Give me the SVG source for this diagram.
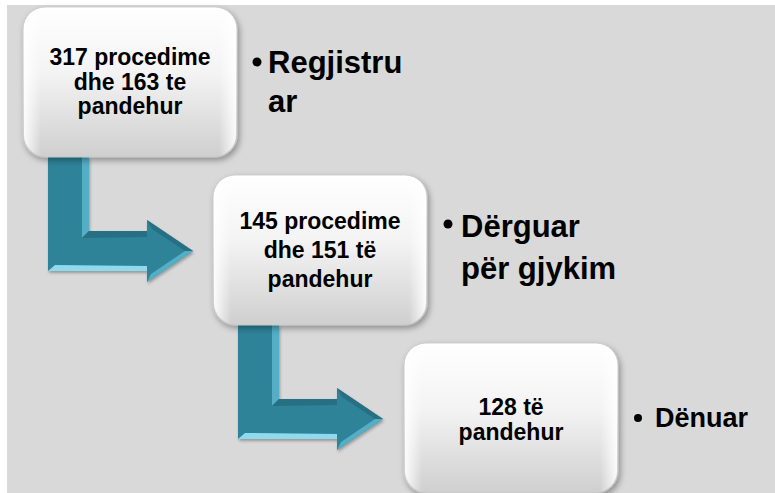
<svg xmlns="http://www.w3.org/2000/svg" width="775" height="493" viewBox="0 0 775 493">
<defs>
  <linearGradient id="boxg" x1="0" y1="0" x2="0" y2="1">
    <stop offset="0" stop-color="#ffffff"/>
    <stop offset="0.45" stop-color="#f3f3f3"/>
    <stop offset="1" stop-color="#cfcfcf"/>
  </linearGradient>
  <linearGradient id="gloss" x1="0" y1="0" x2="1" y2="0">
    <stop offset="0" stop-color="#ffffff" stop-opacity="0.9"/>
    <stop offset="0.08" stop-color="#ffffff" stop-opacity="0"/>
    <stop offset="0.92" stop-color="#ffffff" stop-opacity="0"/>
    <stop offset="1" stop-color="#ffffff" stop-opacity="0.9"/>
  </linearGradient>
  <filter id="sh" x="-10%" y="-10%" width="125%" height="130%">
    <feDropShadow dx="2" dy="3" stdDeviation="3" flood-color="#000" flood-opacity="0.35"/>
  </filter>
  <filter id="ash" x="-10%" y="-10%" width="125%" height="130%">
    <feDropShadow dx="1" dy="2" stdDeviation="1.5" flood-color="#000" flood-opacity="0.3"/>
  </filter>
</defs>
<style>
  .box { fill: url(#boxg); stroke: #c4c4c4; stroke-width: 0.8; filter: url(#sh); }
  .gl { fill: url(#gloss); }
  .bt { font-family: "Liberation Sans", Arial, sans-serif; font-weight: bold; font-size: 23px; fill: #000; text-anchor: middle; }
  .lb { font-family: "Liberation Sans", Arial, sans-serif; font-weight: bold; font-size: 31px; fill: #000; }
  .lbs { font-family: "Liberation Sans", Arial, sans-serif; font-weight: bold; font-size: 27px; fill: #000; }
  .arr { fill: #2f8399; filter: url(#ash); }
  .bvl { fill: #8fdaec; }
  .bvm { fill: #53aec6; }
  .bvd { fill: #276f82; }
</style>
<rect x="0" y="0" width="775" height="493" fill="#ffffff"/>
<rect x="7" y="5" width="768" height="488" fill="#d9d9d9"/>

<g id="connectors">
  <g id="arrow1">
    <path class="arr" d="M48,157 L89,157 L89,231 L147,231 L147,220 L193,251 L147,282 L147,271 L48,271 Z"/>
    <polygon class="bvm" points="89,157 89,231 82,238 82,157"/>
    <polygon class="bvd" points="89,231 147,231 147,237 82,238"/>
    <polygon class="bvl" points="48,271 147,271 147,266 55,265"/>
    <polygon class="bvm" points="147,282 193,251 185,251 151,274"/>
    <polygon class="bvd" points="147,220 193,251 185,251 152,229"/>
  </g>
  <g id="arrow2">
    <path class="arr" d="M238,325 L279,325 L279,399 L337,399 L337,388 L383,419 L337,450 L337,439 L238,439 Z"/>
    <polygon class="bvm" points="279,325 279,399 272,406 272,325"/>
    <polygon class="bvd" points="279,399 337,399 337,405 272,406"/>
    <polygon class="bvl" points="238,439 337,439 337,434 245,433"/>
    <polygon class="bvm" points="337,450 383,419 375,419 341,442"/>
    <polygon class="bvd" points="337,388 383,419 375,419 342,397"/>
  </g>
</g>

<g id="node1">
  <rect class="box" x="23" y="7" width="214" height="150" rx="22" ry="22"/>
  <rect class="gl" x="24" y="8" width="212" height="148" rx="21" ry="21"/>
  <text class="bt" x="130" y="65">317 procedime</text>
  <text class="bt" x="130" y="90">dhe 163 te</text>
  <text class="bt" x="130" y="114">pandehur</text>
</g>
<g id="label1">
  <circle cx="257" cy="62" r="4.5" fill="#000"/>
  <text class="lb" x="268" y="73">Regjistru</text>
  <text class="lb" x="268" y="112">ar</text>
</g>

<g id="node2">
  <rect class="box" x="213" y="175" width="214" height="150" rx="22" ry="22"/>
  <rect class="gl" x="214" y="176" width="212" height="148" rx="21" ry="21"/>
  <text class="bt" x="320" y="229">145 procedime</text>
  <text class="bt" x="320" y="258">dhe 151 të</text>
  <text class="bt" x="320" y="287">pandehur</text>
</g>
<g id="label2">
  <circle cx="448" cy="224" r="4.5" fill="#000"/>
  <text class="lb" x="461" y="237">Dërguar</text>
  <text class="lb" x="461" y="279">për gjykim</text>
</g>

<g id="node3">
  <rect class="box" x="404" y="343" width="214" height="150" rx="22" ry="22"/>
  <rect class="gl" x="405" y="344" width="212" height="148" rx="21" ry="21"/>
  <text class="bt" x="511" y="415">128 të</text>
  <text class="bt" x="511" y="440">pandehur</text>
</g>
<g id="label3">
  <circle cx="638" cy="418" r="4" fill="#000"/>
  <text class="lbs" x="655" y="427">Dënuar</text>
</g>
</svg>
